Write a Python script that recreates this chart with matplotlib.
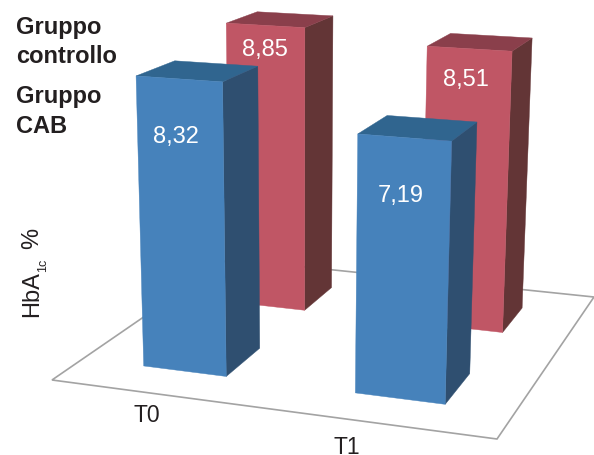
import matplotlib
matplotlib.use("Agg")
import matplotlib.pyplot as plt
from matplotlib.patches import Polygon
import numpy as np

plt.rcParams['font.family'] = ['Liberation Sans', 'DejaVu Sans']

periods = ["T0", "T1"]
group_labels = ["Gruppo\ncontrollo", "Gruppo\nCAB"]
control_values = [8.85, 8.51]
cab_values = [8.32, 7.19]
axis_title_parts = ["HbA", "1c", "%"]

# Perspective camera: ground plane homography plus the vertical vanishing direction
GROUND = np.array([[201.587, 115.149, 52.0],
                   [11.0276, -29.6595, 380.0],
                   [-0.042078, 0.119075, 1.0]])
VERTICAL = -0.00573 * np.array([300.0, 6300.0, 1.0])

FLOOR_SIZE = 2.0
BAR_HALF = 0.2
CAB_ROW, CONTROL_ROW = 0.5, 1.5
CAB_COL = dict(front="#4682bb", top="#30658f", side="#2f4f70")
CTRL_COL = dict(front="#c05665", top="#8a3f4b", side="#633536")
INK = "#231f20"
WIDTH, HEIGHT = 594, 455


def project(x, y, z=0.0):
    p = GROUND @ np.array([x, y, 1.0]) + z * VERTICAL
    return p[0] / p[2], p[1] / p[2]


def draw_bar(ax, cx, cy, h, cols):
    x0, x1 = cx - BAR_HALF, cx + BAR_HALF
    y0, y1 = cy - BAR_HALF, cy + BAR_HALF
    front = [(x0, y0, 0), (x1, y0, 0), (x1, y0, h), (x0, y0, h)]
    side = [(x1, y0, 0), (x1, y1, 0), (x1, y1, h), (x1, y0, h)]
    top = [(x0, y0, h), (x1, y0, h), (x1, y1, h), (x0, y1, h)]
    for face, col in ((side, cols["side"]), (top, cols["top"]), (front, cols["front"])):
        ax.add_patch(Polygon([project(*v) for v in face], closed=True, fc=col, ec=col, lw=0.3))


def value_label(ax, cx, cy, h, drop, nudge):
    u, v = project(cx, cy - BAR_HALF, h - drop)
    ax.text(u + nudge, v, f"{h:.2f}".replace(".", ","), color="white", fontsize=17,
            ha="center", va="center")


fig = plt.figure(figsize=(WIDTH / 100, HEIGHT / 100), dpi=100)
ax = fig.add_axes([0, 0, 1, 1])
ax.set_xlim(0, WIDTH)
ax.set_ylim(HEIGHT, 0)
ax.axis("off")

corners = [(0, 0), (FLOOR_SIZE, 0), (FLOOR_SIZE, FLOOR_SIZE), (0, FLOOR_SIZE)]
ax.add_patch(Polygon([project(x, y) for x, y in corners], closed=True, fc="white",
                     ec="#a3a3a3", lw=1.2, clip_on=False))

control_drops = [0.75, 0.93]
cab_drops = [1.6, 1.56]
control_nudges = [0, -3]
cab_nudges = [-4, -3]
for i in range(2):
    draw_bar(ax, i + 0.5, CONTROL_ROW, control_values[i], CTRL_COL)
for i in range(2):
    draw_bar(ax, i + 0.5, CAB_ROW, cab_values[i], CAB_COL)
for i in range(2):
    value_label(ax, i + 0.5, CONTROL_ROW, control_values[i], control_drops[i], control_nudges[i])
    value_label(ax, i + 0.5, CAB_ROW, cab_values[i], cab_drops[i], cab_nudges[i])

for label, baselines in zip(group_labels, ((34, 63), (103, 133))):
    for line, base in zip(label.split("\n"), baselines):
        ax.text(16, base, line, fontsize=17, fontweight="bold", color=INK, va="baseline")

# Rotated axis title, assembled so the subscript keeps the same typeface
title_kw = dict(color=INK, rotation=90, rotation_mode="anchor", ha="left", va="baseline")
ax.text(38, 317, axis_title_parts[0], fontsize=17, **title_kw)
ax.text(46, 272, axis_title_parts[1], fontsize=9, **title_kw)
ax.text(38, 249, axis_title_parts[2], fontsize=17, **title_kw)

ax.text(146.5, 422, periods[0], fontsize=16.5, color=INK, ha="center", va="baseline")
ax.text(347, 453.5, periods[1], fontsize=16.5, color=INK, ha="center", va="baseline")

fig.savefig("out.png", dpi=100)
